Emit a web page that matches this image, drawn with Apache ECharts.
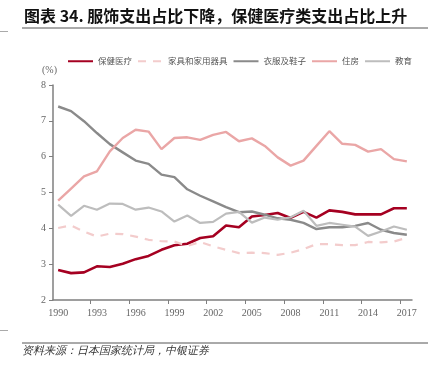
<!DOCTYPE html>
<html>
<head>
<meta charset="utf-8">
<script src="https://cdn.jsdelivr.net/npm/echarts@6/dist/echarts.min.js"></script>
<style>
  html, body { margin: 0; padding: 0; background: #fff; }
  #main { width: 434px; height: 368px; }
</style>
</head>
<body>
<div id="main"></div>
<script>
// 年份与各项支出占比(%)
var years = [];
for (var y = 1990; y <= 2017; y++) years.push(y);

var health = [2.84, 2.75, 2.77, 2.94, 2.92, 3.01, 3.14, 3.23, 3.40, 3.53, 3.57, 3.73, 3.78, 4.08, 4.03, 4.33, 4.37, 4.43, 4.29, 4.46, 4.30, 4.50, 4.46, 4.39, 4.39, 4.39, 4.56, 4.56];
var furniture = [4.01, 4.08, 3.91, 3.77, 3.85, 3.84, 3.77, 3.68, 3.64, 3.63, 3.51, 3.62, 3.50, 3.40, 3.31, 3.32, 3.31, 3.26, 3.32, 3.42, 3.56, 3.56, 3.53, 3.53, 3.62, 3.61, 3.63, 3.74];
var clothing = [7.40, 7.27, 6.99, 6.66, 6.35, 6.12, 5.89, 5.80, 5.50, 5.43, 5.09, 4.91, 4.75, 4.59, 4.45, 4.47, 4.38, 4.28, 4.24, 4.15, 3.98, 4.03, 4.03, 4.07, 4.15, 3.96, 3.87, 3.82];
var housing = [4.77, 5.11, 5.45, 5.59, 6.15, 6.52, 6.75, 6.70, 6.21, 6.52, 6.54, 6.47, 6.61, 6.69, 6.43, 6.51, 6.30, 5.98, 5.75, 5.89, 6.30, 6.71, 6.36, 6.33, 6.14, 6.21, 5.93, 5.87];
var education = [4.66, 4.35, 4.63, 4.52, 4.69, 4.68, 4.52, 4.58, 4.47, 4.19, 4.36, 4.15, 4.18, 4.41, 4.46, 4.16, 4.30, 4.24, 4.31, 4.49, 4.07, 4.15, 4.10, 4.05, 3.79, 3.91, 4.05, 3.96];

var xLabels = [1990, 1993, 1996, 1999, 2002, 2005, 2008, 2011, 2014, 2017];
var xTicks = [1992.5, 1995.5, 1998.5, 2001.5, 2004.5, 2007.5, 2010.5, 2013.5, 2016.5];

function pairs(vals) {
  return vals.map(function (v, i) { return [years[i], v]; });
}

var serif = '"Liberation Serif", "DejaVu Serif", serif';
var cjk = '"Noto Sans CJK SC", sans-serif';

function lineSeries(name, vals, color, width, type) {
  return {
    name: name,
    type: 'line',
    data: pairs(vals),
    symbol: 'none',
    smooth: false,
    lineStyle: { color: color, width: width, type: type || 'solid' },
    itemStyle: { color: color },
    emphasis: { disabled: true }
  };
}

var chart = echarts.init(document.getElementById('main'), null, { renderer: 'canvas' });

var option = {
  animation: false,
  backgroundColor: '#fff',
  title: {
    text: '图表 34. 服饰支出占比下降，保健医疗类支出占比上升',
    left: 19,
    top: 3,
    textStyle: { fontSize: 16, fontWeight: 'bold', color: '#111', fontFamily: cjk }
  },
  legend: {
    left: 67,
    top: 57,
    padding: 0,
    width: 367,
    itemWidth: 25,
    itemHeight: 8,
    itemGap: 5,
    itemStyle: { opacity: 0 },
    textStyle: { fontSize: 8.5, color: '#555', fontFamily: cjk },
    data: ['保健医疗', '家具和家用器具', '衣服及鞋子', '住房', '教育']
  },
  grid: { left: 53, right: 22, top: 85, bottom: 68 },
  xAxis: {
    type: 'value',
    min: 1989.6,
    max: 2017.4,
    splitLine: { show: false },
    axisLine: { lineStyle: { color: '#7f7f7f', width: 1.5 } },
    axisTick: { show: true, length: 4, lineStyle: { color: '#7f7f7f' }, customValues: xTicks },
    axisLabel: {
      customValues: xLabels,
      margin: 8,
      fontSize: 10,
      color: '#666',
      fontFamily: serif,
      formatter: function (v) { return String(v); }
    }
  },
  yAxis: {
    type: 'value',
    min: 2,
    max: 8,
    interval: 1,
    name: '(%)',
    nameLocation: 'end',
    nameGap: 10,
    nameTextStyle: { fontSize: 10, color: '#666', fontFamily: serif, align: 'right', padding: [0, -4, 0, 0] },
    splitLine: { show: false },
    axisLine: { show: true, lineStyle: { color: '#7f7f7f', width: 1.5 } },
    axisTick: { show: true, length: 4, lineStyle: { color: '#7f7f7f' } },
    axisLabel: { margin: 7, fontSize: 10, color: '#666', fontFamily: serif }
  },
  graphic: [
    { type: 'line', shape: { x1: 22, y1: 28, x2: 428, y2: 28 }, style: { stroke: '#555', lineWidth: 1 } },
    { type: 'line', shape: { x1: 0, y1: 31.5, x2: 8, y2: 31.5 }, style: { stroke: '#aaa', lineWidth: 1 } },
    { type: 'line', shape: { x1: 22, y1: 343, x2: 428, y2: 343 }, style: { stroke: '#555', lineWidth: 1 } },
    { type: 'line', shape: { x1: 0, y1: 330.5, x2: 8, y2: 330.5 }, style: { stroke: '#aaa', lineWidth: 1 } },
    {
      type: 'text', left: 22, top: 345,
      style: { text: '资料来源：日本国家统计局，中银证券', fontSize: 11, fontStyle: 'italic', fill: '#333', font: 'italic 11px "Noto Sans CJK SC", sans-serif' }
    }
  ],
  series: [
    lineSeries('保健医疗', health, '#a50021', 2.6),
    lineSeries('家具和家用器具', furniture, '#f3cccc', 2.2, [8, 7]),
    lineSeries('衣服及鞋子', clothing, '#8a8a8a', 2.4),
    lineSeries('住房', housing, '#eaa6a6', 2.4),
    lineSeries('教育', education, '#bdbdbd', 2.2)
  ]
};

chart.setOption(option);
</script>
</body>
</html>
